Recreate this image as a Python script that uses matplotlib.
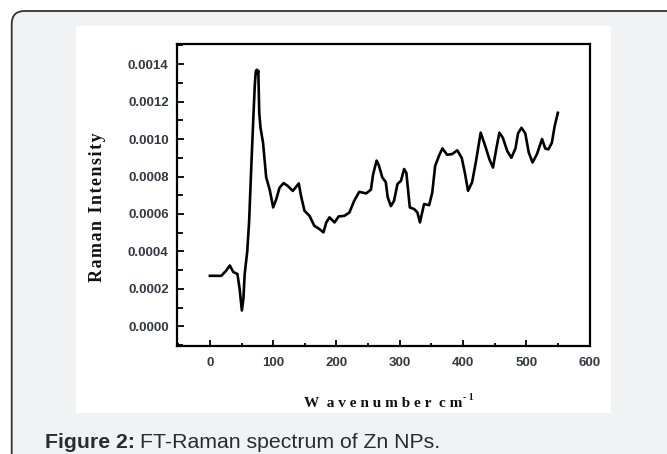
import matplotlib
matplotlib.use("Agg")
import matplotlib.pyplot as plt
from matplotlib.patches import FancyBboxPatch, Rectangle
from matplotlib.transforms import IdentityTransform
from matplotlib.ticker import MultipleLocator, FormatStrFormatter

# FT-Raman spectrum values (intensity in units of 1e-4)
wavenumber = [0, 18, 25, 31.5, 37, 43.5, 47, 50.5, 53, 55, 59, 62, 65.5, 69, 71,
              72.5, 74, 75.5, 76.5, 78, 80, 84, 89, 94.5, 100, 105, 110, 116.5,
              123, 131, 140.5, 144, 149.5, 157.5, 165, 173, 179.5, 184, 189, 197,
              203.5, 212.5, 220.5, 228, 236, 247, 254.5, 258, 263.5, 267, 272.5,
              278, 281, 286, 291, 296.5, 302, 307, 310.5, 316, 323, 328, 332,
              338.5, 346.5, 351.5, 356, 362, 367.5, 375, 383, 391, 398, 403, 408,
              414.5, 421, 428, 434.5, 442, 447.5, 452.5, 457.5, 463, 470, 476.5,
              483, 487, 492.5, 498.5, 504, 510, 517, 525, 530, 535, 540.5, 545, 550]
intensity_e4 = [2.7, 2.7, 2.95, 3.25, 2.9, 2.8, 2.0, 0.85, 1.5, 2.8, 4.0, 5.6, 8.6,
                11.4, 12.9, 13.6, 13.7, 13.5, 13.65, 11.4, 10.6, 9.8, 7.95, 7.3,
                6.35, 6.8, 7.4, 7.65, 7.5, 7.23, 7.63, 6.97, 6.17, 5.9, 5.37, 5.2,
                5.02, 5.55, 5.82, 5.55, 5.87, 5.9, 6.08, 6.7, 7.18, 7.1, 7.3, 8.12,
                8.85, 8.6, 7.95, 7.7, 6.9, 6.42, 6.7, 7.6, 7.77, 8.4, 8.2, 6.35,
                6.26, 6.08, 5.55, 6.53, 6.47, 7.15, 8.56, 9.1, 9.5, 9.16, 9.2, 9.4,
                9.0, 8.2, 7.24, 7.7, 8.9, 10.34, 9.7, 8.9, 8.48, 9.45, 10.34, 10.07,
                9.36, 9.0, 9.5, 10.3, 10.6, 10.3, 9.28, 8.75, 9.2, 10.0, 9.5, 9.45,
                9.8, 10.7, 11.4]
intensity = [v * 1e-4 for v in intensity_e4]

fig = plt.figure(figsize=(6.67, 4.54), dpi=100)
fig.patch.set_facecolor("white")

# grey rounded card and white picture panel behind the chart
card = FancyBboxPatch((11.7, -40), 720, 483, boxstyle="round,pad=0,rounding_size=13",
                      transform=IdentityTransform(), facecolor="#f1f2f4",
                      edgecolor="#333333", linewidth=1.3, zorder=-3)
fig.add_artist(card)
panel = Rectangle((76, 41), 535, 387, transform=IdentityTransform(),
                  facecolor="white", edgecolor="none", zorder=-2)
fig.add_artist(panel)

ax = fig.add_axes([177 / 667, 1 - 345.7 / 454, 412.5 / 667, 302.2 / 454])
ax.set_facecolor("white")
ax.plot(wavenumber, intensity, color="black", linewidth=1.9)

ax.set_xlim(-52, 600)
ax.set_ylim(-0.000103, 0.00151)
ax.xaxis.set_major_locator(MultipleLocator(100))
ax.xaxis.set_minor_locator(MultipleLocator(50))
ax.yaxis.set_major_locator(MultipleLocator(0.0002))
ax.yaxis.set_minor_locator(MultipleLocator(0.0001))
ax.yaxis.set_major_formatter(FormatStrFormatter("%.4f"))

for s in ax.spines.values():
    s.set_linewidth(1.6)
ax.tick_params(axis="both", which="both", direction="in", top=False, right=False,
               width=1.3, colors="black", labelcolor="#333842")
ax.tick_params(axis="x", which="major", length=4, pad=8)
ax.tick_params(axis="x", which="minor", length=2)
ax.tick_params(axis="y", which="major", length=5, pad=6)
ax.tick_params(axis="y", which="minor", length=4.5)
for lab in ax.get_xticklabels() + ax.get_yticklabels():
    lab.set_fontfamily("Liberation Sans")
    lab.set_fontweight("bold")
    lab.set_fontsize(9.5)

serif = ["Liberation Serif", "DejaVu Serif"]
hs = "\u200a"
# axis titles (bold serif, slightly spaced as in the picture)
fig.text(97.5 / 667, 1 - 207.5 / 454, hs.join("Raman Intensity"),
         rotation=90, ha="center", va="center", fontsize=13, fontweight="bold",
         family=serif, color="#111111")
fig.text(383.3 / 667, 1 - 406.7 / 454, "W  a v e n u m b e r  c m",
         ha="center", va="baseline", fontsize=11, fontweight="bold",
         family=serif, color="#111111")
fig.text(463 / 667, 1 - 399.5 / 454, "- 1", ha="left", va="baseline", fontsize=7,
         fontweight="bold", family=serif, color="#111111")

# caption: bold label, then the regular text right after it
cap_y = 1 - 448.3 / 454
t1 = fig.text(45 / 667, cap_y, "Figure 2:", ha="left", va="baseline",
              fontsize=15.3, fontweight="bold", family="Liberation Sans", color="#2b2b2b")
fig.canvas.draw()
x_end = t1.get_window_extent().x1
fig.text((x_end + 5) / 667, cap_y, "FT-Raman spectrum of Zn NPs.", ha="left",
         va="baseline", fontsize=15.3, family="Liberation Sans", color="#2b2b2b")

fig.savefig("out.png", dpi=100)
